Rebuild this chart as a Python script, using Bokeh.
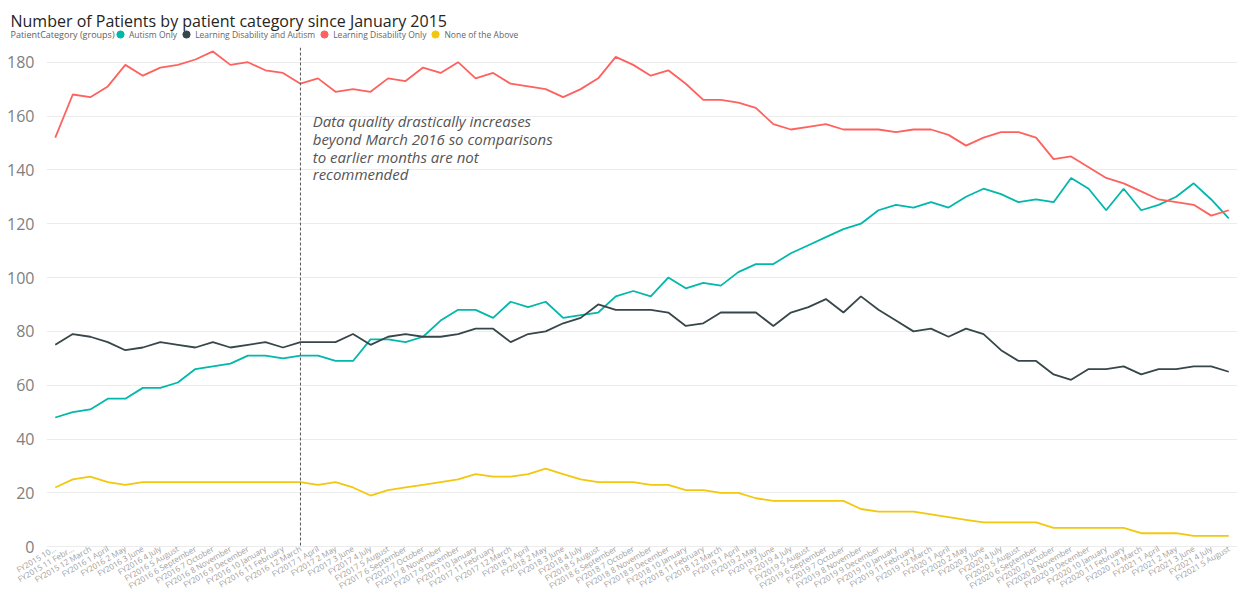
from bokeh.plotting import figure
from bokeh.layouts import column
from bokeh.models import (FactorRange, Range1d, Span, Label, Legend, LegendItem,
                          ColumnDataSource, SingleIntervalTicker)
from bokeh.embed import file_html
from bokeh.resources import INLINE

# Category labels as displayed on the x axis (the first two are truncated in the chart)
categories = [
    "FY2015 10...", "FY2015 11 Febr...", "FY2015 12 March",
    "FY2016 1 April", "FY2016 2 May", "FY2016 3 June", "FY2016 4 July", "FY2016 5 August",
    "FY2016 6 September", "FY2016 7 October", "FY2016 8 November", "FY2016 9 December",
    "FY2016 10 January", "FY2016 11 February", "FY2016 12 March",
    "FY2017 1 April", "FY2017 2 May", "FY2017 3 June", "FY2017 4 July", "FY2017 5 August",
    "FY2017 6 September", "FY2017 7 October", "FY2017 8 November", "FY2017 9 December",
    "FY2017 10 January", "FY2017 11 February", "FY2017 12 March",
    "FY2018 1 April", "FY2018 2 May", "FY2018 3 June", "FY2018 4 July", "FY2018 5 August",
    "FY2018 6 September", "FY2018 7 October", "FY2018 8 November", "FY2018 9 December",
    "FY2018 10 January", "FY2018 11 February", "FY2018 12 March",
    "FY2019 1 April", "FY2019 2 May", "FY2019 3 June", "FY2019 4 July", "FY2019 5 August",
    "FY2019 6 September", "FY2019 7 October", "FY2019 8 November", "FY2019 9 December",
    "FY2019 10 January", "FY2019 11 February", "FY2019 12 March",
    "FY2020 1 April", "FY2020 2 May", "FY2020 3 June", "FY2020 4 July", "FY2020 5 August",
    "FY2020 6 September", "FY2020 7 October", "FY2020 8 November", "FY2020 9 December",
    "FY2020 10 January", "FY2020 11 February", "FY2020 12 March",
    "FY2021 1 April", "FY2021 2 May", "FY2021 3 June", "FY2021 4 July", "FY2021 5 August",
]

autism_only = [48, 50, 51, 55, 55, 59, 59, 61, 66, 67, 68, 71, 71, 70, 71, 71,
               69, 69, 77, 77, 76, 78, 84, 88, 88, 85, 91, 89, 91, 85, 86, 87, 93, 95,
               93, 100, 96, 98, 97, 102, 105, 105, 109, 112,
               115, 118, 120, 125, 127, 126, 128, 126, 130, 133, 131, 128, 129, 128, 137, 133,
               125, 133, 125, 127, 130, 135, 129, 122]
ld_and_autism = [75, 79, 78, 76, 73, 74, 76, 75, 74, 76, 74, 75, 76, 74, 76, 76,
                 76, 79, 75, 78, 79, 78, 78, 79, 81, 81, 76, 79, 80, 83, 85, 90, 88, 88,
                 88, 87, 82, 83, 87, 87, 87, 82, 87, 89, 92, 87, 93, 88, 84, 80, 81,
                 78, 81, 79, 73, 69, 69, 64, 62, 66, 66, 67, 64, 66, 66, 67, 67, 65]
ld_only = [152, 168, 167, 171, 179, 175, 178, 179, 181, 184, 179, 180, 177, 176, 172, 174, 169, 170, 169, 174, 173,
           178, 176, 180, 174, 176, 172, 171, 170, 167, 170, 174, 182, 179, 175, 177, 172, 166, 166, 165, 163, 157, 155, 156,
           157, 155, 155, 155, 154, 155, 155, 153, 149, 152, 154, 154, 152, 144, 145, 141, 137, 135, 132, 129, 128, 127, 123, 125]
none_above = [22, 25, 26, 24, 23, 24, 24, 24, 24, 24, 24, 24, 24, 24, 24, 23,
              24, 22, 19, 21, 22, 23, 24, 25, 27, 26, 26, 27, 29, 27, 25, 24, 24, 24,
              23, 23, 21, 21, 20, 20, 18, 17, 17, 17, 17, 17, 14, 13, 13, 13,
              12, 11, 10, 9, 9, 9, 9, 7, 7, 7, 7, 7, 5, 5, 5, 4, 4, 4]

series_names = ["Autism Only", "Learning Disability and Autism", "Learning Disability Only", "None of the Above"]
series_colors = ["#01B8AA", "#374649", "#FD625E", "#F2C80F"]

title_text = "Number of Patients by patient category since January 2015"
legend_title = "PatientCategory (groups)"
note_lines = ["Data quality drastically increases",
              "beyond March 2016 so comparisons",
              "to earlier months are not",
              "recommended"]
cutoff_category = "FY2016 12 March"

FONT = "Open Sans"
W = 1241
HEAD_H = 47
MAIN_H = 598 - HEAD_H
NAN = float("nan")

# ---------------- header (title + legend) ----------------
head = figure(width=W, height=HEAD_H, x_range=Range1d(0, W), y_range=Range1d(HEAD_H, 0),
              output_backend="svg", toolbar_location=None, title=None,
              x_axis_location=None, y_axis_location=None,
              min_border=0, min_border_left=0, min_border_right=0, min_border_top=0, min_border_bottom=0)
head.outline_line_color = None
head.xgrid.visible = False
head.ygrid.visible = False

head.add_layout(Label(x=10, y=20, text=title_text, text_font=FONT, text_font_size="16px",
                      text_color="#252423", text_baseline="alphabetic"))
head.add_layout(Label(x=10, y=34, text=legend_title, text_font=FONT, text_font_size="9px",
                      text_color="#605E5C", text_baseline="middle"))

items = []
for name, color in zip(series_names, series_colors):
    r = head.scatter(x=[NAN], y=[NAN], marker="circle", size=8, fill_color=color, line_color=color)
    items.append(LegendItem(label=name, renderers=[r]))
legend = Legend(items=items, orientation="horizontal", location=(111, 3),
                glyph_width=18, glyph_height=20, label_standoff=-3, spacing=-1, padding=0, margin=0,
                border_line_color=None, background_fill_alpha=0,
                label_text_font=FONT, label_text_font_size="8.5px", label_text_color="#666666",
                label_height=20)
head.add_layout(legend)

# ---------------- main chart ----------------
src = ColumnDataSource(dict(cat=categories, a=autism_only, b=ld_and_autism, c=ld_only, d=none_above))

p = figure(width=W, height=MAIN_H, x_range=FactorRange(factors=categories), y_range=Range1d(-0.3, 185.46),
           output_backend="svg", toolbar_location=None, title=None,
           min_border_left=46, min_border_right=4, min_border_top=0, min_border_bottom=50)
p.outline_line_color = None

for fig in (head, p):
    try:
        fig.frame_align = False
    except Exception:
        pass

p.yaxis.ticker = SingleIntervalTicker(interval=20)
p.yaxis.axis_line_color = None
p.yaxis.major_tick_line_color = None
p.yaxis.minor_tick_line_color = None
p.yaxis.major_label_text_font = FONT
p.yaxis.major_label_text_font_size = "16px"
p.yaxis.major_label_text_color = "#808080"
p.yaxis.major_label_standoff = 6

p.xaxis.axis_line_color = None
p.xaxis.major_tick_line_color = None
p.xaxis.minor_tick_line_color = None
p.xaxis.major_tick_out = 0
p.xaxis.major_label_orientation = 0.53
p.xaxis.major_label_text_font = FONT
p.xaxis.major_label_text_font_size = "8px"
p.xaxis.major_label_text_color = "#a0a0a0"
p.xaxis.major_label_standoff = 0

p.xgrid.visible = False
p.ygrid.grid_line_color = "#ececec"
p.ygrid.grid_line_width = 1

for col, color in zip(["a", "b", "c", "d"], series_colors):
    p.line(x="cat", y=col, source=src, line_color=color, line_width=1.8)

cut_x = categories.index(cutoff_category) + 0.5
p.add_layout(Span(location=cut_x, dimension="height",
                  line_color="#555555", line_dash="3 2", line_width=1))

note_y = [158.0, 151.4, 144.9, 138.3]
for txt, yy in zip(note_lines, note_y):
    p.add_layout(Label(x=cut_x + 0.7, y=yy, text=txt, text_font=FONT, text_font_size="15px",
                       text_font_style="italic", text_color="#555555", text_baseline="alphabetic"))

open("out.html", "w").write(file_html(column(head, p), INLINE))
